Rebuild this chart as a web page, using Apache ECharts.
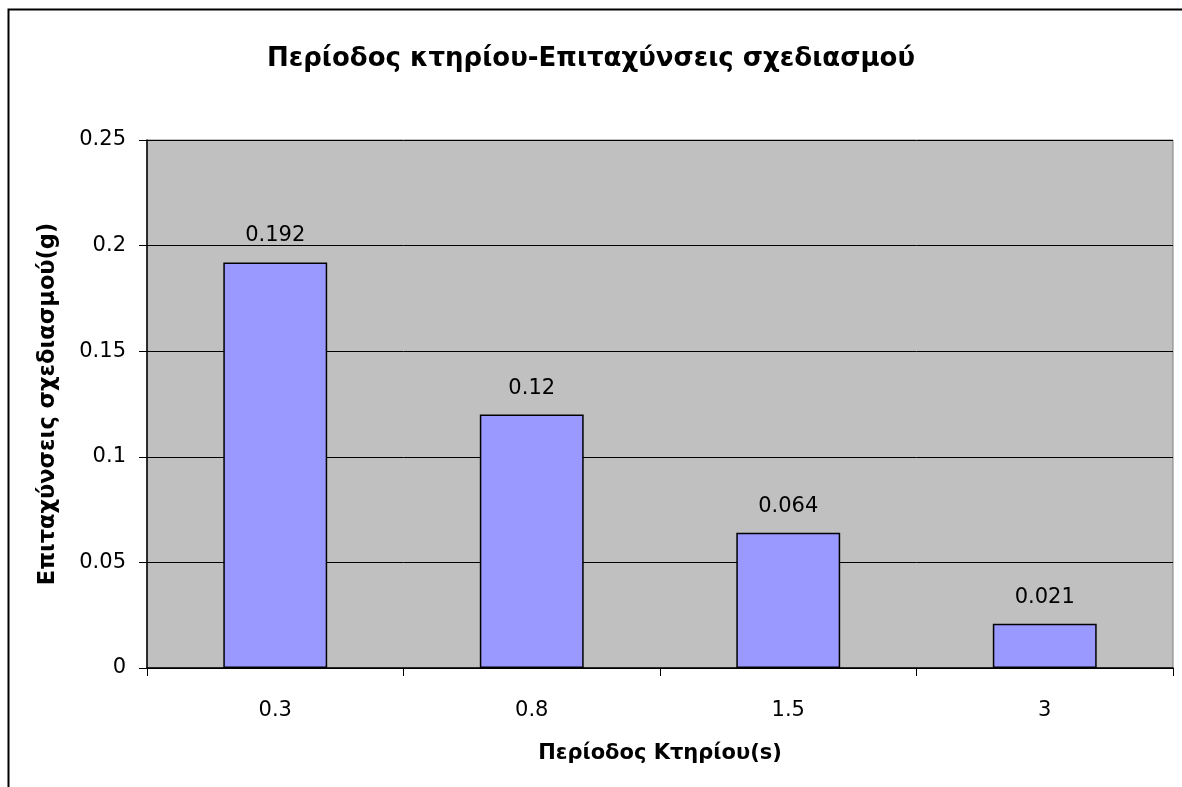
<!DOCTYPE html>
<html>
<head>
<meta charset="utf-8">
<script src="https://cdn.jsdelivr.net/npm/echarts@6/dist/echarts.min.js"></script>
<style>html,body{margin:0;padding:0;background:#fff}#c{width:1182px;height:787px}</style>
</head>
<body>
<div id="c"></div>
<script>
const categories = ['0.3', '0.8', '1.5', '3'];
const values = [0.192, 0.12, 0.064, 0.021];
const labels = ['0.192', '0.12', '0.064', '0.021'];
const titleText = 'Περίοδος κτηρίου-Επιταχύνσεις σχεδιασμού';
const xName = 'Περίοδος Κτηρίου(s)';
const yName = 'Επιταχύνσεις σχεδιασμού(g)';

const chart = echarts.init(document.getElementById('c'));
const font = '"DejaVu Sans", Arial, sans-serif';
chart.setOption({
  animation: false,
  backgroundColor: '#fff',
  graphic: [{
    type: 'rect', shape: { x: 8.5, y: 9.5, width: 1200, height: 800 },
    style: { fill: 'none', stroke: '#000', lineWidth: 2 }, z: -1
  }],
  title: {
    text: titleText, left: 'center', top: 41,
    textStyle: { fontFamily: font, fontSize: 26, fontWeight: 'bold', color: '#000' }
  },
  grid: {
    left: 147, right: 9, top: 140, bottom: 119,
    show: true, backgroundColor: '#C0C0C0', borderColor: '#808080', borderWidth: 1
  },
  xAxis: {
    type: 'category', data: categories,
    name: xName, nameLocation: 'middle', nameGap: 75,
    nameTextStyle: { fontFamily: font, fontSize: 21, fontWeight: 'bold', color: '#000' },
    axisLine: { lineStyle: { color: '#000', width: 1.5 } },
    axisTick: { show: true, length: 8, lineStyle: { color: '#000' } },
    axisLabel: { fontFamily: font, fontSize: 21, color: '#000', margin: 32 }
  },
  yAxis: {
    type: 'value', min: 0, max: 0.25, interval: 0.05,
    name: yName, nameLocation: 'middle', nameGap: 87,
    nameTextStyle: { fontFamily: font, fontSize: 22.5, fontWeight: 'bold', color: '#000' },
    axisLine: { show: true, lineStyle: { color: '#000', width: 1.5 } },
    axisTick: { show: true, length: 8, lineStyle: { color: '#000' } },
    axisLabel: { fontFamily: font, fontSize: 21, color: '#000', margin: 21,
      formatter: v => String(+v.toFixed(2)) },
    splitLine: { show: true, lineStyle: { color: '#000', width: 1 } }
  },
  series: [{
    type: 'bar', data: values, barWidth: '40.5%',
    itemStyle: { color: '#9999FF', borderColor: '#000', borderWidth: 1.5 },
    label: {
      show: true, position: 'top', distance: 16,
      fontFamily: font, fontSize: 21, color: '#000',
      formatter: p => labels[p.dataIndex]
    }
  }]
});
</script>
</body>
</html>
